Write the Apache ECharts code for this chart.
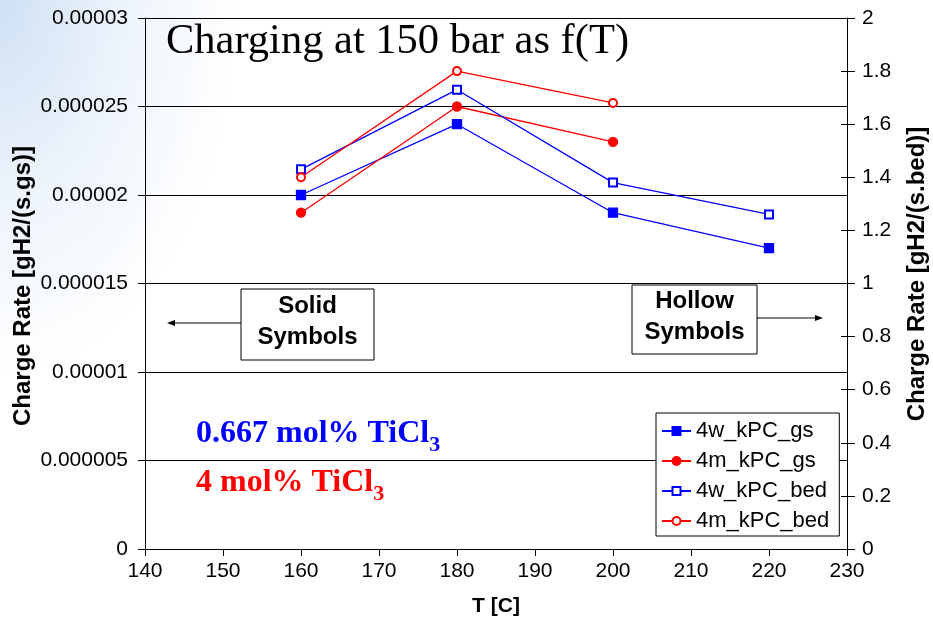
<!DOCTYPE html>
<html>
<head>
<meta charset="utf-8">
<script src="https://cdn.jsdelivr.net/npm/echarts@6/dist/echarts.min.js"></script>
<style>
  html, body { margin: 0; padding: 0; }
  body {
    width: 933px; height: 627px;
    background:
      radial-gradient(ellipse 240px 380px at 0 0, rgba(205,223,244,0.95), rgba(228,238,250,0.6) 55%, rgba(255,255,255,0) 100%),
      #ffffff;
  }
  #chart { width: 933px; height: 627px; }
</style>
</head>
<body>
<div id="chart"></div>
<script>
// Temperatures (°C) at which charging was measured
const temps4w = [160, 180, 200, 220];
const temps4m = [160, 180, 200];

// Charge rate per gram of sample, gH2/(s.gs) — left axis
const rate4wGs = [0.000020, 0.000024, 0.000019, 0.000017];
const rate4mGs = [0.000019, 0.000025, 0.000023];

// Charge rate per bed, gH2/(s.bed) — right axis
const rate4wBed = [1.43, 1.73, 1.38, 1.26];
const rate4mBed = [1.40, 1.80, 1.68];

// Series names
const seriesNames = ['4w_kPC_gs', '4m_kPC_gs', '4w_kPC_bed', '4m_kPC_bed'];

// Tick labels
const xTickLabels = ['140', '150', '160', '170', '180', '190', '200', '210', '220', '230'];
const leftTickLabels = ['0', '0.000005', '0.00001', '0.000015', '0.00002', '0.000025', '0.00003'];
const rightTickLabels = ['0', '0.2', '0.4', '0.6', '0.8', '1', '1.2', '1.4', '1.6', '1.8', '2'];

const SANS = "'Liberation Sans', Arial, sans-serif";
const SERIF = "'Liberation Serif', 'Times New Roman', serif";
const BLUE = '#0000ff';
const RED = '#ff0000';

const pairs = (xs, ys) => xs.map((x, i) => [x, ys[i]]);

// width of a string in a given font, used to place the subscripts
const measureCtx = document.createElement('canvas').getContext('2d');
const textWidth = (text, font) => { measureCtx.font = font; return measureCtx.measureText(text).width; };

const NOTE_FONT = 'bold 32px ' + SERIF;
const SUB_FONT = 'bold 22px ' + SERIF;

// "TiCl3" note: main text plus a lowered subscript digit
const chemNote = (x, y, text, sub, color) => ([
  { type: 'text', x, y, style: { text, fill: color, font: NOTE_FONT, align: 'left', verticalAlign: 'middle' } },
  { type: 'text', x: x + textWidth(text, NOTE_FONT), y: y + 11.5, style: { text: sub, fill: color, font: SUB_FONT, align: 'left', verticalAlign: 'middle' } }
]);

const chart = echarts.init(document.getElementById('chart'), null, { renderer: 'canvas' });

const lineSeries = (name, xs, ys, color, symbol, size, yAxisIndex) => ({
  name,
  type: 'line',
  yAxisIndex,
  data: pairs(xs, ys),
  symbol,
  symbolSize: size,
  lineStyle: { color, width: 1.3 },
  itemStyle: { color, borderColor: color, borderWidth: 1.3 },
  emphasis: { disabled: true },
  animation: false
});

chart.setOption({
  backgroundColor: 'transparent',
  animation: false,
  grid: { left: 145, top: 18, width: 702, height: 531, containLabel: false },
  xAxis: {
    type: 'value',
    min: 140, max: 230, interval: 10,
    axisLine: { lineStyle: { color: '#000', width: 1 } },
    axisTick: { length: 7, lineStyle: { color: '#000' } },
    axisLabel: {
      margin: 12, color: '#000', fontSize: 21, fontFamily: SANS,
      formatter: (v, i) => xTickLabels[i]
    },
    splitLine: { show: false },
    name: 'T [C]', nameLocation: 'middle', nameGap: 47,
    nameTextStyle: { color: '#000', fontSize: 21, fontWeight: 'bold', fontFamily: SANS }
  },
  yAxis: [
    {
      type: 'value', position: 'left',
      min: 0, max: 0.00003, interval: 0.000005,
      axisLine: { show: true, lineStyle: { color: '#000', width: 1 } },
      axisTick: { show: true, length: 7, lineStyle: { color: '#000' } },
      axisLabel: {
        margin: 17, color: '#000', fontSize: 21, fontFamily: SANS,
        formatter: (v, i) => leftTickLabels[i]
      },
      splitLine: { show: true, lineStyle: { color: '#000', width: 1 } }
    },
    {
      type: 'value', position: 'right',
      min: 0, max: 2, interval: 0.2,
      axisLine: { show: true, lineStyle: { color: '#000', width: 1 } },
      axisTick: { show: true, length: 8, lineStyle: { color: '#000' } },
      axisLabel: {
        margin: 15, color: '#000', fontSize: 21, fontFamily: SANS,
        formatter: (v, i) => rightTickLabels[i]
      },
      splitLine: { show: false }
    },
    {
      // inner half of the right-hand cross ticks
      type: 'value', position: 'right',
      min: 0, max: 2, interval: 0.2,
      axisLine: { show: false },
      axisTick: { show: true, inside: true, length: 6, lineStyle: { color: '#000' } },
      axisLabel: { show: false },
      splitLine: { show: false }
    }
  ],
  legend: {
    orient: 'vertical',
    left: 656, top: 413,
    padding: [7, 10, 4, 5],
    itemGap: 8,
    itemWidth: 29,
    itemHeight: 10,
    backgroundColor: '#fff',
    borderColor: '#000',
    borderWidth: 1,
    borderRadius: 0,
    selectedMode: false,
    textStyle: { color: '#000', fontSize: 22, fontFamily: SANS, lineHeight: 22, padding: [0, 0, 0, 0] },
    data: seriesNames
  },
  series: [
    lineSeries(seriesNames[0], temps4w, rate4wGs, BLUE, 'rect', 9, 0),
    lineSeries(seriesNames[1], temps4m, rate4mGs, RED, 'circle', 9, 0),
    lineSeries(seriesNames[2], temps4w, rate4wBed, BLUE, 'emptyRect', 8, 1),
    lineSeries(seriesNames[3], temps4m, rate4mBed, RED, 'emptyCircle', 8, 1)
  ],
  graphic: [
    // axis titles
    {
      type: 'text', x: 23, y: 286, rotation: Math.PI / 2,
      style: { text: 'Charge Rate [gH2/(s.gs)]', fill: '#000', font: 'bold 24px ' + SANS, align: 'center', verticalAlign: 'middle' }
    },
    {
      type: 'text', x: 917, y: 274, rotation: Math.PI / 2,
      style: { text: 'Charge Rate [gH2/(s.bed)]', fill: '#000', font: 'bold 24px ' + SANS, align: 'center', verticalAlign: 'middle' }
    },
    // chart heading inside the plot
    {
      type: 'text', x: 166, y: 42,
      style: { text: 'Charging at 150 bar as f(T)', fill: '#000', font: '42.5px ' + SERIF, align: 'left', verticalAlign: 'middle' }
    },
    // "Solid Symbols" callout pointing to the left axis
    {
      type: 'rect', shape: { x: 241, y: 289, width: 133, height: 71 },
      style: { fill: '#fff', stroke: '#000', lineWidth: 1 }
    },
    {
      type: 'text', x: 307.5, y: 322,
      style: { text: 'Solid\nSymbols', fill: '#000', font: 'bold 24px ' + SANS, lineHeight: 31, align: 'center', verticalAlign: 'middle' }
    },
    { type: 'line', shape: { x1: 241, y1: 323, x2: 172, y2: 323 }, style: { stroke: '#000', lineWidth: 1 } },
    { type: 'polygon', shape: { points: [[167, 323], [175, 320], [175, 326]] }, style: { fill: '#000' } },
    // "Hollow Symbols" callout pointing to the right axis
    {
      type: 'rect', shape: { x: 632, y: 285, width: 125, height: 69 },
      style: { fill: '#fff', stroke: '#000', lineWidth: 1 }
    },
    {
      type: 'text', x: 694.5, y: 317,
      style: { text: 'Hollow\nSymbols', fill: '#000', font: 'bold 24px ' + SANS, lineHeight: 31, align: 'center', verticalAlign: 'middle' }
    },
    { type: 'line', shape: { x1: 757, y1: 318, x2: 818, y2: 318 }, style: { stroke: '#000', lineWidth: 1 } },
    { type: 'polygon', shape: { points: [[823, 318], [815, 315], [815, 321]] }, style: { fill: '#000' } },
    // catalyst loading notes
    ...chemNote(196, 434, '0.667 mol% TiCl', '3', BLUE),
    ...chemNote(196, 483, '4 mol% TiCl', '3', RED)
  ]
});
</script>
</body>
</html>
